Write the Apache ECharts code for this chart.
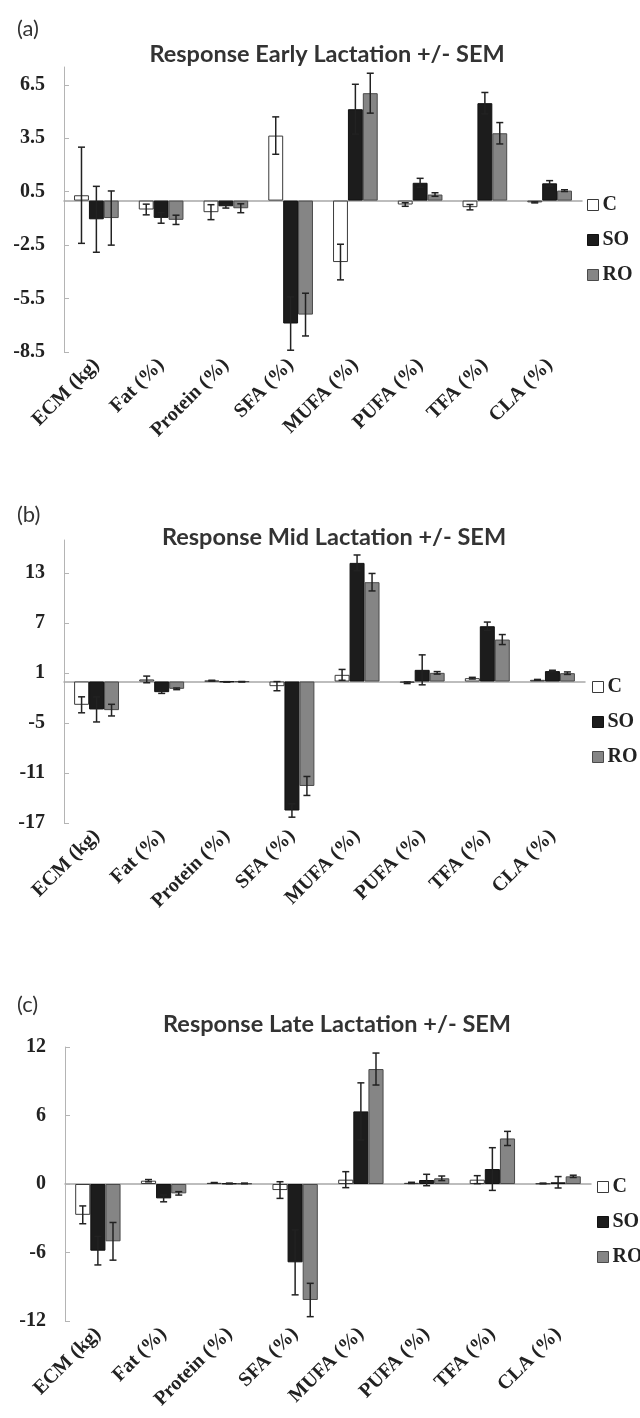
<!DOCTYPE html>
<html><head><meta charset="utf-8">
<script src="https://cdn.jsdelivr.net/npm/echarts@6/dist/echarts.min.js"></script>
<style>html,body{margin:0;padding:0;background:#fff}#c{width:640px;height:1418px}</style>
</head><body><div id="c"></div>
<script>
// ---------- data ----------
const categories = ['ECM (kg)', 'Fat (%)', 'Protein (%)', 'SFA (%)', 'MUFA (%)', 'PUFA (%)', 'TFA (%)', 'CLA (%)'];
const seriesNames = ['C', 'SO', 'RO'];

// (a) Early lactation
const earlyC     = [0.3, -0.5, -0.65, 3.65, -3.45, -0.22, -0.37, -0.1];
const earlyCErr  = [2.7, 0.3, 0.42, 1.05, 1.0, 0.1, 0.15, 0.03];
const earlySO    = [-1.05, -0.97, -0.32, -6.9, 5.13, 1.0, 5.47, 0.97];
const earlySOErr = [1.85, 0.3, 0.1, 1.5, 1.4, 0.25, 0.6, 0.15];
const earlyRO    = [-0.98, -1.08, -0.43, -6.4, 6.03, 0.34, 3.78, 0.56];
const earlyROErr = [1.52, 0.26, 0.25, 1.2, 1.12, 0.1, 0.6, 0.05];
const earlyTicks = [-8.5, -5.5, -2.5, 0.5, 3.5, 6.5];

// (b) Mid lactation
const midC     = [-2.8, 0.25, 0.1, -0.56, 0.8, -0.15, 0.4, 0.2];
const midCErr  = [0.96, 0.4, 0.05, 0.55, 0.65, 0.1, 0.1, 0.05];
const midSO    = [-3.36, -1.28, -0.05, -15.5, 14.25, 1.4, 6.64, 1.25];
const midSOErr = [1.5, 0.15, 0.03, 0.8, 0.95, 1.8, 0.5, 0.1];
const midRO    = [-3.44, -0.88, -0.03, -12.55, 11.93, 1.04, 5.04, 1.0];
const midROErr = [0.7, 0.1, 0.03, 1.14, 1.05, 0.15, 0.6, 0.15];
const midTicks = [-17, -11, -5, 1, 7, 13];

// (c) Late lactation
const lateC     = [-2.7, 0.29, 0.1, -0.53, 0.38, 0.1, 0.38, 0.05];
const lateCErr  = [0.78, 0.1, 0.03, 0.73, 0.7, 0.05, 0.35, 0.03];
const lateSO    = [-5.84, -1.26, 0.05, -6.86, 6.36, 0.35, 1.31, 0.15];
const lateSOErr = [1.25, 0.3, 0.03, 2.85, 2.5, 0.5, 1.87, 0.5];
const lateRO    = [-5.02, -0.82, 0.05, -10.16, 10.07, 0.5, 3.99, 0.67];
const lateROErr = [1.65, 0.15, 0.03, 1.46, 1.4, 0.2, 0.62, 0.1];
const lateTicks = [-12, -6, 0, 6, 12];

// ---------- layout / style ----------
const panels = [
  { tag: '(a)', title: 'Response Early Lactation +/- SEM',
    values: [earlyC, earlySO, earlyRO], errs: [earlyCErr, earlySOErr, earlyROErr],
    ticks: earlyTicks, min: -8.5, max: 7.5,
    grid: { left: 64, top: 67, width: 518, height: 285 },
    titleX: 322, titleTop: 37, tagTop: 13, legendLeft: 582, legendTop: 190 },
  { tag: '(b)', title: 'Response Mid Lactation +/- SEM',
    values: [midC, midSO, midRO], errs: [midCErr, midSOErr, midROErr],
    ticks: midTicks, min: -17, max: 17,
    grid: { left: 64, top: 540, width: 521, height: 283 },
    titleX: 329, titleTop: 520, tagTop: 499, legendLeft: 587, legendTop: 672 },
  { tag: '(c)', title: 'Response Late Lactation +/- SEM',
    values: [lateC, lateSO, lateRO], errs: [lateCErr, lateSOErr, lateROErr],
    ticks: lateTicks, min: -12, max: 12,
    grid: { left: 65, top: 1047, width: 526, height: 274 },
    titleX: 332, titleTop: 1007, tagTop: 989, legendLeft: 592, legendTop: 1172 }
];

const GAP = 0.31;
const styles = [
  { color: '#ffffff', borderColor: '#3a3a3a', borderWidth: 1 },
  { color: '#1c1c1c', borderColor: '#111111', borderWidth: 1 },
  { color: '#858585', borderColor: '#4a4a4a', borderWidth: 1 }
];
const serif = 'Liberation Serif';
const sans = 'Lato';

function errRender(params, api) {
  const cat = api.value(0), val = api.value(1), err = api.value(2), k = api.value(3);
  const band = api.size([1, 0])[0];
  const bw = band * (1 - GAP) / 3;
  const x = api.coord([cat, val])[0] + (k - 1) * bw;
  const yt = api.coord([cat, val + err])[1];
  const yb = api.coord([cat, val - err])[1];
  const cap = 3.5;
  const st = { stroke: '#222', lineWidth: 1.5 };
  return { type: 'group', children: [
    { type: 'line', shape: { x1: x, y1: yt, x2: x, y2: yb }, style: st },
    { type: 'line', shape: { x1: x - cap, y1: yt, x2: x + cap, y2: yt }, style: st },
    { type: 'line', shape: { x1: x - cap, y1: yb, x2: x + cap, y2: yb }, style: st }
  ]};
}

const option = { animation: false, backgroundColor: '#fff',
  title: [], grid: [], xAxis: [], yAxis: [], series: [], legend: [] };

panels.forEach((p, i) => {
  option.title.push({ text: p.title, left: p.titleX, top: p.titleTop, textAlign: 'center',
    textStyle: { fontFamily: sans, fontWeight: 'bold', fontSize: 23.5, color: '#333' } });
  option.title.push({ text: p.tag, left: 12, top: p.tagTop,
    textStyle: { fontFamily: sans, fontWeight: 'normal', fontSize: 22, color: '#333' } });
  option.grid.push(Object.assign({ containLabel: false }, p.grid));
  // zero line axis
  option.xAxis.push({ type: 'category', gridIndex: i, data: categories, position: 'bottom',
    axisLine: { show: true, onZero: true, lineStyle: { color: '#a8a8a8', width: 1.5 } },
    axisTick: { show: false }, axisLabel: { show: false }, splitLine: { show: false } });
  // label axis at bottom
  option.xAxis.push({ type: 'category', gridIndex: i, data: categories, position: 'bottom',
    axisLine: { show: false, onZero: false }, axisTick: { show: false }, splitLine: { show: false },
    axisLabel: { show: true, rotate: 45, margin: 10, interval: 0,
      fontFamily: serif, fontWeight: 'bold', fontSize: 20, color: '#222' } });
  option.yAxis.push({ type: 'value', gridIndex: i, min: p.min, max: p.max,
    axisLine: { show: true, lineStyle: { color: '#b4b4b4', width: 1 } },
    axisTick: { show: true, inside: true, length: 5, customValues: p.ticks, lineStyle: { color: '#b4b4b4' } },
    axisLabel: { show: true, customValues: p.ticks, margin: 19,
      fontFamily: serif, fontWeight: 'bold', fontSize: 20, color: '#222' },
    splitLine: { show: false } });
  seriesNames.forEach((n, k) => {
    option.series.push({ type: 'bar', name: n, xAxisIndex: 2 * i, yAxisIndex: i,
      data: p.values[k], barGap: '0%', barCategoryGap: (GAP * 100) + '%',
      itemStyle: styles[k], emphasis: { disabled: true } });
  });
  const errData = [];
  seriesNames.forEach((n, k) => {
    p.values[k].forEach((v, c) => errData.push([c, v, p.errs[k][c], k]));
  });
  option.series.push({ type: 'custom', name: 'err' + i, xAxisIndex: 2 * i, yAxisIndex: i,
    data: errData, encode: { x: 0, y: 1 }, renderItem: errRender, z: 5, clip: false, silent: true });
  option.legend.push({ orient: 'vertical', left: p.legendLeft, top: p.legendTop,
    itemWidth: 11, itemHeight: 11, itemGap: 15, icon: 'rect', selectedMode: false,
    textStyle: { fontFamily: serif, fontWeight: 'bold', fontSize: 20, color: '#222', padding: [0, 0, 0, -1] },
    data: seriesNames.map((n, k) => ({ name: n, itemStyle: styles[k] })) });
});

const chart = echarts.init(document.getElementById('c'), null, { renderer: 'canvas' });
chart.setOption(option);
</script></body></html>
